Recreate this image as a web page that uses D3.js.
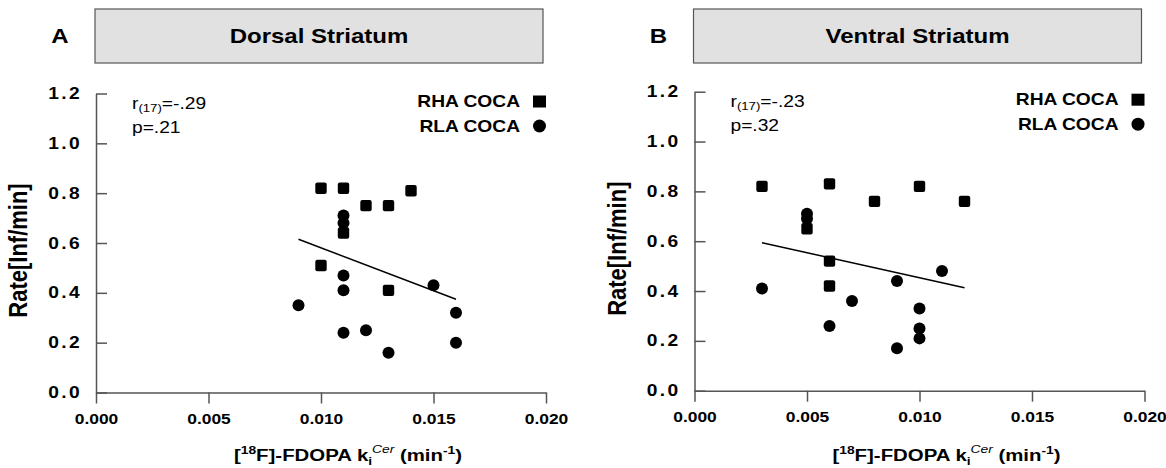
<!DOCTYPE html>
<html>
<head>
<meta charset="utf-8">
<script src="https://cdn.jsdelivr.net/npm/d3@7"></script>
<style>
  body { margin: 0; background: #fff; }
  svg { display: block; font-family: "Liberation Sans", Arial, sans-serif; }
</style>
</head>
<body>
<svg id="area" width="1166" height="468"></svg>
<script>
// values (x in min^-1, y in Inf/min)
const xTicks = [0, 0.005, 0.010, 0.015, 0.020];
const yTicks = [0, 0.2, 0.4, 0.6, 0.8, 1.0, 1.2];
const legendLabels = ['RHA COCA', 'RLA COCA'];

const dorsalRhaX = [0.010, 0.011, 0.012, 0.013, 0.014, 0.011, 0.010, 0.013];
const dorsalRhaY = [0.82, 0.82, 0.75, 0.75, 0.81, 0.64, 0.51, 0.41];
const dorsalRlaX = [0.011, 0.011, 0.011, 0.011, 0.009, 0.011, 0.012, 0.013, 0.015, 0.016, 0.016];
const dorsalRlaY = [0.71, 0.68, 0.47, 0.41, 0.35, 0.24, 0.25, 0.16, 0.43, 0.32, 0.20];
const dorsalFitX = [0.009, 0.016];
const dorsalFitY = [0.615, 0.374];

const ventralRhaX = [0.003, 0.006, 0.008, 0.010, 0.012, 0.005, 0.006, 0.006];
const ventralRhaY = [0.82, 0.83, 0.76, 0.82, 0.76, 0.65, 0.52, 0.42];
const ventralRlaX = [0.005, 0.005, 0.003, 0.006, 0.007, 0.009, 0.009, 0.010, 0.010, 0.010, 0.011];
const ventralRlaY = [0.71, 0.69, 0.41, 0.26, 0.36, 0.44, 0.17, 0.33, 0.25, 0.21, 0.48];
const ventralFitX = [0.003, 0.012];
const ventralFitY = [0.594, 0.413];

const SX = 1.2; // the figure's glyphs are horizontally widened
const svg = d3.select('#area');

function label(g, x, y, s, size, weight, anchor) {
  return g.append('text')
    .attr('transform', `translate(${x},${y}) scale(${SX},1)`)
    .attr('font-size', size)
    .attr('font-weight', weight)
    .attr('text-anchor', anchor || 'start')
    .text(s);
}

function panel(opts) {
  const g = svg.append('g');
  const x = d3.scaleLinear().domain([0, 0.02]).range([opts.left, opts.left + 450]);
  const y = d3.scaleLinear().domain([0, 1.2]).range([opts.bottom, opts.bottom - 299]);

  // title box
  g.append('rect')
    .attr('x', opts.left - 1).attr('y', 9)
    .attr('width', 448).attr('height', 54)
    .attr('fill', '#e1e1e1').attr('stroke', '#555').attr('stroke-width', 1.2);
  label(g, opts.left + 223, 43, opts.title, 20, 'bold', 'middle');
  label(g, opts.left - 36, 43, opts.letter, 20, 'bold', 'middle');

  // axes
  const ax = g.append('g')
    .attr('transform', `translate(0,${opts.bottom})`)
    .call(d3.axisBottom(x).tickValues(xTicks).tickFormat(d3.format('.3f'))
      .tickSizeInner(11).tickSizeOuter(0).tickPadding(6));
  const ay = g.append('g')
    .attr('transform', `translate(${opts.left},0)`)
    .call(d3.axisLeft(y).tickValues(yTicks).tickFormat(d3.format('.1f'))
      .tickSizeInner(-11).tickSizeOuter(0).tickPadding(0));
  [ax, ay].forEach((a) => {
    a.select('.domain').attr('stroke', '#555').attr('stroke-width', 1.5);
    a.selectAll('.tick line').attr('stroke', '#555').attr('stroke-width', 1.5);
    a.selectAll('.tick text').attr('fill', '#000').attr('font-weight', 'bold')
      .attr('font-family', '"Liberation Sans", Arial, sans-serif');
  });
  ax.selectAll('.tick text').attr('font-size', 14.5)
    .attr('transform', `scale(${SX},1)`).attr('dy', '1em');
  ay.selectAll('.tick text').attr('font-size', 16).attr('letter-spacing', 2)
    .attr('x', -14 / SX).attr('transform', `scale(${SX},1)`);

  // axis titles
  const xt = g.append('text')
    .attr('transform', `translate(${opts.left + 252},461) scale(${SX},1)`)
    .attr('font-size', 17).attr('font-weight', 'bold').attr('text-anchor', 'middle');
  xt.append('tspan').text('[');
  xt.append('tspan').attr('font-size', 11.5).attr('dy', -7).text('18');
  xt.append('tspan').attr('dy', 7).text('F]-FDOPA k');
  xt.append('tspan').attr('font-size', 11.5).attr('dy', 4).text('i');
  xt.append('tspan').attr('font-size', 11.5).attr('dy', -12).attr('font-style', 'italic')
    .attr('font-weight', 'normal').text('Cer');
  xt.append('tspan').attr('dy', 8).text(' (min');
  xt.append('tspan').attr('font-size', 11.5).attr('dy', -7).text('-1');
  xt.append('tspan').attr('dy', 7).text(')');

  g.append('text')
    .attr('transform', `translate(${opts.left - 69},${opts.bottom - 142}) rotate(-90) scale(1,${SX})`)
    .attr('font-size', 22).attr('font-weight', 'bold').attr('text-anchor', 'middle')
    .text('Rate[Inf/min]');

  // stats
  const st = g.append('text')
    .attr('transform', `translate(${opts.left + 36},${opts.bottom - 284}) scale(${SX},1)`)
    .attr('font-size', 16);
  st.append('tspan').text('r');
  st.append('tspan').attr('font-size', 11).attr('dy', 3).text('(17)');
  st.append('tspan').attr('dy', -3).text(opts.r);
  label(g, opts.left + 36, opts.bottom - 260, opts.p, 16, 'normal');

  // legend
  label(g, opts.left + 424, opts.bottom - 286, legendLabels[0], 16, 'bold', 'end');
  label(g, opts.left + 424, opts.bottom - 261, legendLabels[1], 16, 'bold', 'end');
  g.append('rect').attr('x', opts.left + 437).attr('y', opts.bottom - 297)
    .attr('width', 13).attr('height', 12).attr('fill', '#000');
  g.append('circle').attr('cx', opts.left + 443.5).attr('cy', opts.bottom - 266.5)
    .attr('r', 6.5).attr('fill', '#000');

  // fit line
  g.append('line')
    .attr('x1', x(opts.fitX[0])).attr('y1', y(opts.fitY[0]))
    .attr('x2', x(opts.fitX[1])).attr('y2', y(opts.fitY[1]))
    .attr('stroke', '#000').attr('stroke-width', 1.5);

  // markers
  g.append('g').selectAll('rect')
    .data(d3.zip(opts.rhaX, opts.rhaY))
    .join('rect')
    .attr('x', (d) => x(d[0]) - 5.7)
    .attr('y', (d) => y(d[1]) - 5.7)
    .attr('width', 11.4).attr('height', 11.4)
    .attr('rx', 2).attr('fill', '#000');
  g.append('g').selectAll('circle')
    .data(d3.zip(opts.rlaX, opts.rlaY))
    .join('circle')
    .attr('cx', (d) => x(d[0]))
    .attr('cy', (d) => y(d[1]))
    .attr('r', 6).attr('fill', '#000');
}

panel({
  left: 96, bottom: 392.5, letter: 'A', title: 'Dorsal Striatum',
  r: '=-.29', p: 'p=.21',
  rhaX: dorsalRhaX, rhaY: dorsalRhaY, rlaX: dorsalRlaX, rlaY: dorsalRlaY,
  fitX: dorsalFitX, fitY: dorsalFitY,
});
panel({
  left: 694.5, bottom: 390.7, letter: 'B', title: 'Ventral Striatum',
  r: '=-.23', p: 'p=.32',
  rhaX: ventralRhaX, rhaY: ventralRhaY, rlaX: ventralRlaX, rlaY: ventralRlaY,
  fitX: ventralFitX, fitY: ventralFitY,
});
</script>
</body>
</html>
